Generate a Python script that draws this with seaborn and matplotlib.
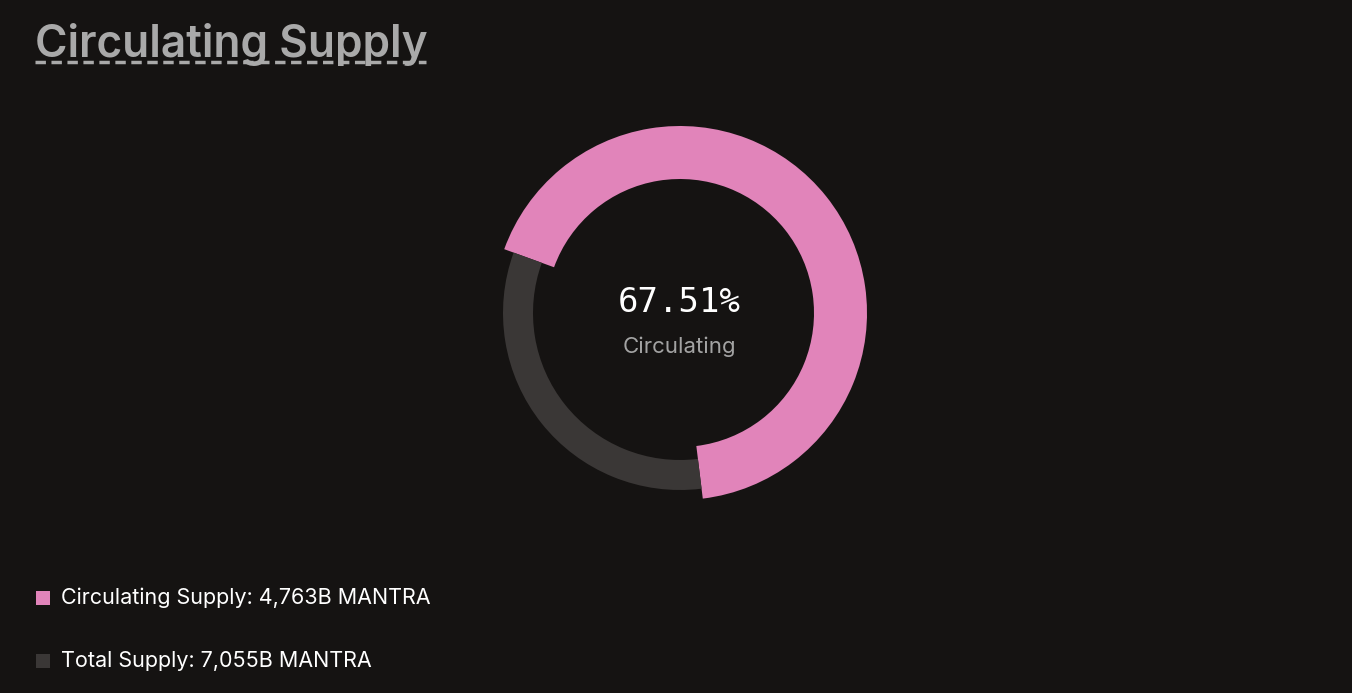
import matplotlib
matplotlib.use("Agg")
import matplotlib.pyplot as plt
import seaborn as sns

# values (billions of MANTRA)
labels = ["Circulating Supply", "Total Supply"]
supply = [4.763, 7.055]
colors = ["#e184ba", "#3a3736"]

bg = "#151312"
sns.set_theme(style="dark", rc={"figure.facecolor": bg, "axes.facecolor": bg})
plt.rcParams["font.family"] = ["Inter", "DejaVu Sans"]

circ, total = supply
rest = total - circ
pct = circ / total * 100

W, H = 1352, 693
fig = plt.figure(figsize=(W / 100, H / 100), dpi=100)
ax = fig.add_axes([0, 0, 1, 1])

cx, cy = 680, H - 313
# pink ring (thicker) and grey ring (thinner) share the same angles
ax.pie([circ, rest], colors=[colors[0], "none"], radius=187, center=(cx, cy),
       startangle=277, counterclock=True, wedgeprops=dict(width=53, linewidth=0))
ax.pie([circ, rest], colors=["none", colors[1]], radius=177, center=(cx, cy),
       startangle=277, counterclock=True, wedgeprops=dict(width=30, linewidth=0))
ax.set_xlim(0, W)
ax.set_ylim(0, H)
ax.set_aspect("equal")
ax.axis("off")

ax.text(cx - 1, H - 302, f"{pct:.2f}%", ha="center", va="center", color="white",
        fontsize=24.5, family="DejaVu Sans Mono")
ax.text(cx - 1, H - 347, "Circulating", ha="center", va="center", color="#a3a3a3",
        fontsize=16)

# title with dashed underline
ax.text(35, H - 57, "Circulating Supply", ha="left", va="baseline", color="#a9a9a9",
        fontsize=31.8, fontweight="semibold")
ax.plot([35, 426], [H - 62, H - 62], color="#a9a9a9", lw=2.5, ls=(0, (3, 1.6)),
        solid_capstyle="butt")

# legend rows
values = [circ, total]
for i, (lab, val, col) in enumerate(zip(labels, values, colors)):
    y = H - (598 + 63 * i)
    ax.scatter([42.5], [y], marker="s", s=115, color=col, linewidths=0)
    ax.text(61, y, f"{lab}: {val:,.3f}B MANTRA".replace(".", ","), ha="left",
            va="center", color="white", fontsize=15.5)

fig.savefig("out.png", dpi=100, facecolor=bg)
